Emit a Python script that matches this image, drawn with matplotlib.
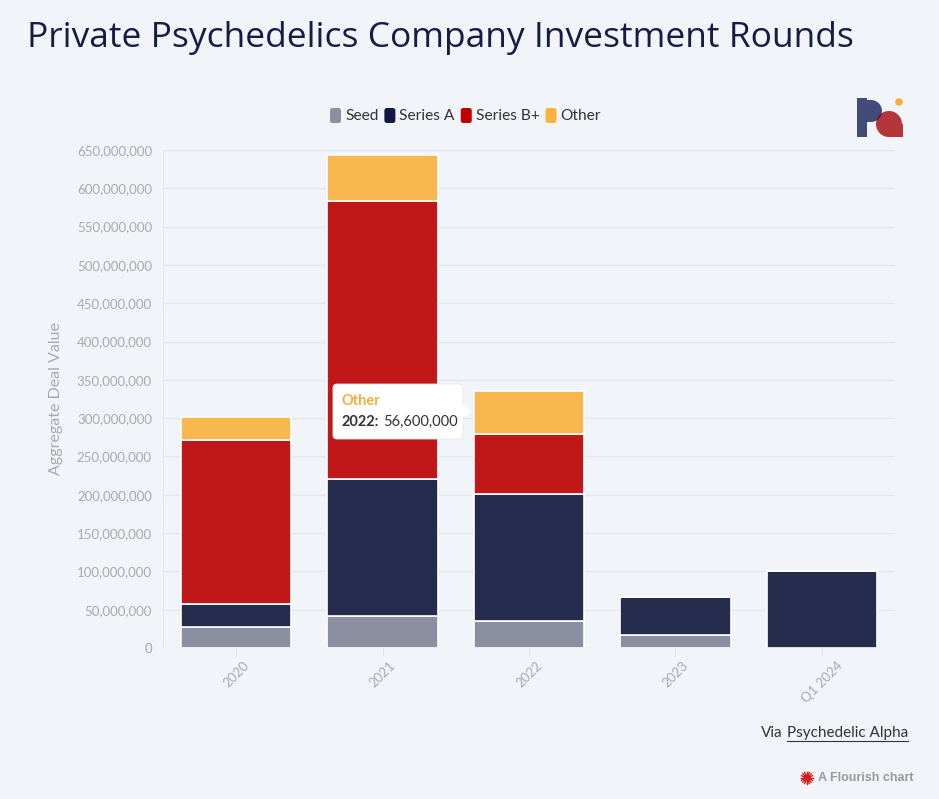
import matplotlib.pyplot as plt
from matplotlib.patches import FancyBboxPatch, Polygon, Rectangle, Circle
from matplotlib.ticker import FuncFormatter, MultipleLocator
import numpy as np

# data (values in USD)
periods = ["2020", "2021", "2022", "2023", "Q1 2024"]
seed = [28_000_000, 42_000_000, 35_000_000, 17_000_000, 0]
series_a = [29_000_000, 179_000_000, 166_000_000, 49_500_000, 100_000_000]
series_b = [215_000_000, 363_000_000, 78_000_000, 0, 0]
other = [29_000_000, 60_000_000, 56_600_000, 0, 0]

names = ["Seed", "Series A", "Series B+", "Other"]
colors = ["#8c8fa1", "#252c4d", "#c01818", "#f9b74f"]
legend_colors = ["#8c8fa1", "#131a42", "#c00000", "#fbb33c"]

bg = "#f1f4f9"
plt.rcParams["font.family"] = ["Source Sans Pro", "Lato", "DejaVu Sans"]

fig = plt.figure(figsize=(9.39, 7.99), dpi=100, facecolor=bg)
W, H = 939, 799

ax = fig.add_axes([163 / W, 1 - 648 / H, (895 - 163) / W, (648 - 150) / H])
ax.set_facecolor(bg)

x = np.arange(len(periods))
bottom = np.zeros(len(periods))
for vals, c in zip([seed, series_a, series_b, other], colors):
    v = np.array(vals, dtype=float)
    ax.bar(x, v, bottom=bottom, width=0.755, color=c, edgecolor="white",
           linewidth=1.2, zorder=3)
    bottom += v

ax.set_xlim(-0.5, 4.5)
ax.set_ylim(0, 650_000_000)
ax.yaxis.set_major_locator(MultipleLocator(50_000_000))
ax.yaxis.set_major_formatter(FuncFormatter(lambda v, p: f"{int(v):,}"))
ax.grid(axis="y", color="#e4e6ea", linewidth=1, zorder=0)
for s in ax.spines.values():
    s.set_visible(False)
ax.spines["left"].set_visible(True)
ax.spines["left"].set_color("#e6e8ec")
ax.tick_params(axis="both", length=0, colors="#aaaaaa", labelsize=9.5)
ax.tick_params(axis="y", pad=8)
ax.tick_params(axis="x", length=6, color="#e2e4e8", pad=2)
ax.set_xticks(x)
ax.set_xticklabels(periods, rotation=45, ha="center")
ax.set_ylabel("Aggregate Deal Value", color="#aaaaaa", fontsize=11.5)
ax.yaxis.set_label_coords(-0.137, 0.5)

# overlay in pixel coordinates for title, legend, logo, tooltip, footer
ov = fig.add_axes([0, 0, 1, 1], zorder=10)
ov.set_xlim(0, W)
ov.set_ylim(H, 0)
ov.axis("off")
ov.patch.set_alpha(0)

title = ov.text(27, 38, "Private Psychedelics Company Investment Rounds",
                fontsize=23, color="#171c45", va="center", weight=500,
                family=["Open Sans", "DejaVu Sans"])
fig.canvas.draw()
tw = title.get_window_extent().width
title.set_fontsize(23 * (856 - 27) / tw)

# legend
lx = 330
for n, c in zip(names, legend_colors):
    ov.add_patch(FancyBboxPatch((lx, 108), 11, 15, boxstyle="round,pad=0,rounding_size=2.5",
                                facecolor=c, edgecolor="none"))
    t = ov.text(lx + 15, 116, n, fontsize=11.2, color="#333333", va="center")
    fig.canvas.draw()
    bb = t.get_window_extent()
    lx = bb.x1 + 6

# logo
navy = "#434b78"
red = "#b6353a"
ov.add_patch(Rectangle((857, 98), 10, 39, facecolor=navy, edgecolor="none"))
ov.add_patch(Circle((871, 111), 11, facecolor=navy, edgecolor="none"))
ov.add_patch(Rectangle((862, 100), 9, 22, facecolor=navy, edgecolor="none"))
red_c = Circle((889, 124), 13, facecolor=red, edgecolor="none")
ov.add_patch(red_c)
ov.add_patch(Rectangle((889, 124), 13.5, 13, facecolor=red, edgecolor="none"))
overlap = Circle((871, 111), 11, facecolor="#3a2036", edgecolor="none")
ov.add_patch(overlap)
overlap.set_clip_path(red_c)
ov.add_patch(Circle((899, 102), 3.8, facecolor="#f7ae3f", edgecolor="none"))

# tooltip
tip_l, tip_t, tip_r, tip_b = 333, 384, 463, 439
ov.add_patch(FancyBboxPatch((tip_l, tip_t), tip_r - tip_l, tip_b - tip_t,
                            boxstyle="round,pad=0,rounding_size=4",
                            facecolor="white", edgecolor="#e6e8ec", linewidth=0.6))
ov.add_patch(Polygon([(tip_r - 1, 403), (tip_r + 9, 411), (tip_r - 1, 419)], closed=True,
                     facecolor="white", edgecolor="none"))
ov.text(341, 401, "Other", fontsize=10.5, color="#f4b03e", weight="bold", va="center")
ov.text(341, 422, "2022:", fontsize=10.5, color="#333333", weight="bold", va="center")
ov.text(383, 422, "56,600,000", fontsize=10.5, color="#333333", va="center")

# footer
src = ov.text(908, 733, "Psychedelic Alpha", fontsize=11, color="#333333",
              ha="right", va="center")
fig.canvas.draw()
sb = src.get_window_extent()
ov.text(sb.x0 - 4, 733, "Via", fontsize=11, color="#333333", ha="right", va="center")
ov.plot([sb.x0, sb.x1], [741, 741], color="#333333", linewidth=0.8)
ov.text(913, 778, "A Flourish chart", fontsize=9, color="#9a9a9a", weight="bold",
        ha="right", va="center", family=["Liberation Sans", "DejaVu Sans"])
for a in np.linspace(0, 2 * np.pi, 16, endpoint=False):
    ov.plot([807, 807 + 6 * np.cos(a)], [778, 778 + 6 * np.sin(a)],
            color="#d11b1b", linewidth=1)
ov.add_patch(Circle((807, 778), 3.5, facecolor="#c8161d", edgecolor="none"))

fig.savefig("out.png", dpi=100, facecolor=bg)
